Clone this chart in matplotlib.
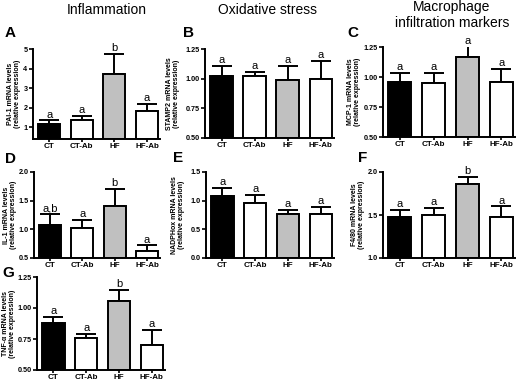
import matplotlib
matplotlib.use("Agg")
import matplotlib.pyplot as plt

plt.rcParams['font.family'] = ['Liberation Sans', 'DejaVu Sans']

groups = ["CT", "CT-Ab", "HF", "HF-Ab"]
colors = ["black", "white", "#c0c0c0", "white"]

# panel A: PAI-1
pai1_mean = [1.15, 1.35, 3.7, 1.82]
pai1_err = [0.2, 0.25, 1.05, 0.35]
pai1_sig = ["a", "a", "b", "a"]

# panel B: STAMP2
stamp2_mean = [1.025, 1.02, 0.99, 1.0]
stamp2_err = [0.08, 0.035, 0.115, 0.15]
stamp2_sig = ["a", "a", "a", "a"]

# panel C: MCP-1
mcp1_mean = [0.96, 0.95, 1.165, 0.96]
mcp1_err = [0.075, 0.085, 0.09, 0.11]
mcp1_sig = ["a", "a", "a", "a"]

# panel D: IL-1
il1_mean = [1.08, 1.02, 1.4, 0.62]
il1_err = [0.18, 0.15, 0.3, 0.1]
il1_sig = ["a,b", "a", "b", "a"]

# panel E: NADPHox
nadph_mean = [1.08, 0.96, 0.77, 0.77]
nadph_err = [0.14, 0.14, 0.07, 0.12]
nadph_sig = ["a", "a", "a", "a"]

# panel F: F4/80
f480_mean = [1.48, 1.5, 1.86, 1.48]
f480_err = [0.08, 0.08, 0.08, 0.12]
f480_sig = ["a", "a", "b", "a"]

# panel G: TNF-alpha
tnf_mean = [0.88, 0.76, 1.055, 0.70]
tnf_err = [0.05, 0.03, 0.09, 0.12]
tnf_sig = ["a", "a", "b", "a"]

W, H = 520, 382
fig = plt.figure(figsize=(W / 100, H / 100), dpi=100)


def px(x, y):
    return x / W, 1 - y / H


def panel(box, mean, err, sig, ylim, yticks, yticklabels, ylabel, label_x,
          letter, letter_xy):
    l, r, t, b = box
    ax = fig.add_axes([l / W, 1 - b / H, (r - l) / W, (b - t) / H])
    x = range(len(groups))
    ax.bar(x, [m - ylim[0] for m in mean], bottom=ylim[0], width=0.68,
           color=colors, edgecolor="black", linewidth=1.4, zorder=2)
    ax.errorbar(x, mean, yerr=[[0] * len(err), err], fmt="none",
                ecolor="black", elinewidth=1.4, capsize=7, capthick=1.4, zorder=1)
    span = ylim[1] - ylim[0]
    for xi, m, e, s in zip(x, mean, err, sig):
        ax.text(xi, m + e + span * 0.01, s, ha="center", va="bottom", fontsize=8)
    ax.set_xlim(-0.5, 3.4)
    ax.set_ylim(*ylim)
    ax.set_yticks(yticks)
    ax.set_yticklabels(yticklabels, fontsize=5.2, fontweight="bold")
    ax.set_xticks(list(x))
    ax.set_xticklabels(groups, fontsize=5.8, fontweight="bold")
    ax.tick_params(axis="y", length=3, width=1.2, pad=1)
    ax.tick_params(axis="x", length=2.5, width=1.2, pad=0.5)
    for s in ["top", "right"]:
        ax.spines[s].set_visible(False)
    for s in ["left", "bottom"]:
        ax.spines[s].set_linewidth(1.4)
    fig.text(*px(label_x, (t + b) / 2), ylabel, rotation=90, ha="center",
             va="center", fontsize=5, fontweight="bold", linespacing=1.1)
    fig.text(*px(*letter_xy), letter, fontsize=11, fontweight="bold",
             ha="left", va="baseline")
    return ax


panel((33, 160, 49, 139), pai1_mean, pai1_err, pai1_sig, (0.4, 5),
      [1, 2, 3, 4, 5], ["1", "2", "3", "4", "5"],
      "PAI-1 mRNA levels\n(relative expression)", 14, "A", (5, 37))
panel((205, 334, 49, 138), stamp2_mean, stamp2_err, stamp2_sig, (0.5, 1.25),
      [0.5, 0.75, 1.0, 1.25], ["0.50", "0.75", "1.00", "1.25"],
      "STAMP2 mRNA levels\n(relative expression)", 173, "B", (183, 37))
panel((383, 515, 47, 137), mcp1_mean, mcp1_err, mcp1_sig, (0.5, 1.25),
      [0.5, 0.75, 1.0, 1.25], ["0.50", "0.75", "1.00", "1.25"],
      "MCP-1 mRNA levels\n(relative expression)", 354, "C", (347, 37))
panel((34, 160, 172, 258), il1_mean, il1_err, il1_sig, (0.5, 2.0),
      [0.5, 1.0, 1.5, 2.0], ["0.5", "1.0", "1.5", "2.0"],
      "IL-1 mRNA levels\n(relative expression)", 10, "D", (5, 163))
panel((206, 334, 172, 258), nadph_mean, nadph_err, nadph_sig, (0.0, 1.5),
      [0.0, 0.5, 1.0, 1.5], ["0.0", "0.5", "1.0", "1.5"],
      "NADPHox mRNA levels\n(relative expression)", 178, "E", (173, 162))
panel((383, 515, 172, 258), f480_mean, f480_err, f480_sig, (1.0, 2.0),
      [1.0, 1.5, 2.0], ["1.0", "1.5", "2.0"],
      "F4/80 mRNA levels\n(relative expression)", 358, "F", (358, 162))
panel((37, 165, 277, 370), tnf_mean, tnf_err, tnf_sig, (0.5, 1.25),
      [0.5, 0.75, 1.0, 1.25], ["0.50", "0.75", "1.00", "1.25"],
      "TNF-\u03b1 mRNA levels\n(relative expression)", 9, "G", (2, 277))

fig.text(*px(107, 10), "Inflammation", ha="center", va="center", fontsize=10)
fig.text(*px(267, 10), "Oxidative stress", ha="center", va="center", fontsize=10)
fig.text(*px(452, 15), "Macrophage\ninfiltration markers", ha="center",
         va="center", fontsize=10, linespacing=1.1)

fig.savefig("out.png", dpi=100)
